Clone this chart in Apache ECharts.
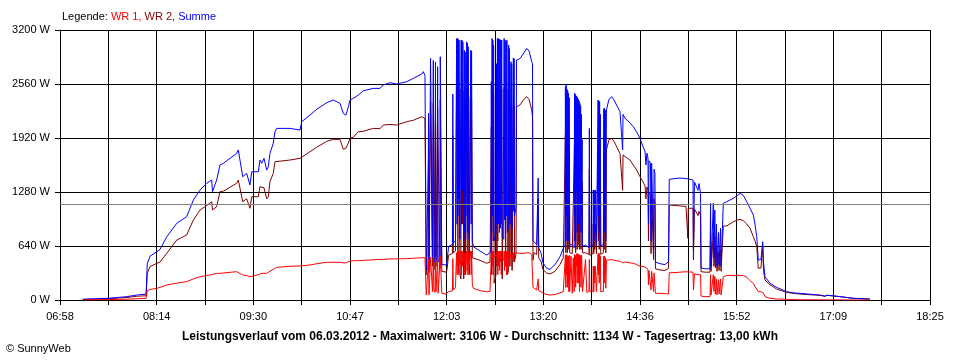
<!DOCTYPE html>
<html><head><meta charset="utf-8">
<script src="https://cdn.jsdelivr.net/npm/echarts@6/dist/echarts.min.js"></script>
<style>html,body{margin:0;padding:0;background:#fff}#c{width:960px;height:360px}</style>
</head><body><div id="c"></div>
<script>
// time axis: minutes of day; chart runs 06:58 .. 18:25
const START_MIN = 418;
const END_MIN = 1105;
const tickLabels = ['06:58','08:14','09:30','10:47','12:03','13:20','14:36','15:52','17:09','18:25'];
const average = 1134;
const titleText = 'Leistungsverlauf vom 06.03.2012 - Maximalwert: 3106 W - Durchschnitt: 1134 W - Tagesertrag: 13,00 kWh';

const times = [
436,456,471,479,486,486.9,489.1,494.4,497,502.3,
510.2,518,523.3,528.6,533.8,537.8,538.4,541.7,544.3,547,
557.5,558.8,562.3,565.4,568,569.4,574.6,575.9,577.3,579.1,
581.2,582.5,583.8,585.2,586.4,587.8,589.1,599.6,607.5,608.9,
615.4,620.7,628.6,633.8,639.1,641.7,643.8,645.7,647,649.6,
653.6,657.5,665.4,670.7,673.3,678.6,683.9,691.8,697,703.6,
704.9,706.2,
707.2,708.6,709.0,709.4,710.3,710.6,711.7,712.1,712.8,713.2,714.1,714.5,714.9,715.9,716.2,716.6,718.1,718.3,719.1,719.5,722.8,723.6,724.8,726.0,727.9,728.2,728.6,
730.3,731.1,731.3,731.6,731.9,732.2,732.5,732.8,733.1,733.5,733.8,734.6,734.8,735.1,735.4,735.8,736.1,736.5,736.8,737.3,737.6,738.0,738.3,739.0,739.2,739.5,739.8,740.1,740.4,740.8,741.1,742.2,742.4,742.7,743.0,743.3,743.6,744.4,749.7,754.9,757.6,
758.3,758.6,758.9,759.2,759.5,759.8,760.1,760.4,760.8,762.3,762.7,763.1,763.4,763.7,764.0,764.4,764.7,765.0,765.3,765.7,766.0,766.4,766.8,767.2,768.4,768.7,769.0,769.4,769.8,770.2,770.6,770.9,771.2,772.0,772.3,772.6,772.9,773.2,773.9,774.1,774.4,774.7,775.0,775.7,776.0,776.3,776.6,776.9,778.1,778.5,
781.2,784.4,786.5,788.4,790.5,791.1,791.5,792.3,794.4,795.3,795.6,796.0,797.8,799.4,802.3,804.9,808.9,812.8,815.4,
816.8,817.1,817.4,817.7,818.0,818.3,818.6,818.9,819.2,819.5,819.8,820.1,820.5,821.5,822.5,823.3,824.0,824.3,824.6,824.9,825.2,825.5,825.8,826.1,826.4,826.7,827.0,827.3,827.6,827.9,828.2,828.5,828.8,829.1,829.4,829.7,830.0,830.3,830.6,833,834,835.7,836.0,836.4,
838.9,839.1,839.5,839.9,840.3,840.7,841.3,841.6,842.6,842.9,843.2,843.5,843.8,844.1,844.4,844.7,845.0,847.1,847.4,847.7,848.0,848.3,848.6,849.0,849.5,
851.5,853.7,855.5,860.2,862.3,862.6,864.2,868.1,870.7,873.4,876.0,878.4,880.0,880.7,881.5,882.3,882.7,883.1,884.3,884.7,885.2,886.3,886.7,887.1,887.8,888.2,891.8,895.7,898.5,
899.1,903.6,907.6,912.3,913.7,913.8,914.1,917.9,918.2,919.0,920.2,921.8,922.6,923.8,924.2,927.3,931.3,931.7,932.1,933.6,
933.9,934.4,935.1,935.5,936.4,936.8,938.0,938.4,939.6,940.0,941.5,941.8,944.5,949.7,953.4,955.0,957.6,960.3,962.9,965.5,
966.8,968.2,969.4,971.5,972.9,973.5,974.7,978.7,983.9,991.8,996.8,1002.3,1018.1,1022.1,1023.7,1033.9,1044.4,1057.6
];

const wr1 = [
0,5,10,15,20,110,125,138,150,178,
200,217,250,276,290,300,300,316,316,320,
336,336,296,290,276,270,300,316,316,316,
316,320,340,350,363,380,387,400,403,405,
415,430,447,447,447,440,440,455,460,466,
466,470,476,482,482,486,488,490,495,501,
501,501,
60,40,480,60,80,510,500,100,500,120,90,510,100,90,500,80,100,520,510,80,70,90,100,110,110,490,120,
150,560,580,300,580,400,580,300,580,580,420,450,580,300,580,400,580,570,450,550,300,550,420,400,580,350,580,300,570,570,420,400,580,300,580,560,180,138,110,98,100,
110,540,500,580,400,580,300,580,500,500,550,500,580,300,580,400,580,350,580,450,580,300,580,500,470,580,350,580,400,580,300,580,500,520,580,400,570,500,500,550,400,550,500,500,560,450,560,550,550,553,
553,553,560,560,540,530,150,140,118,110,250,110,100,80,65,59,65,85,98,
98,530,150,540,300,530,150,520,200,520,100,530,100,520,80,500,100,540,300,530,150,530,400,550,200,550,300,540,200,540,100,530,300,530,150,530,500,500,100,480,90,100,480,100,
100,400,100,400,200,400,400,100,110,550,300,550,200,550,400,520,100,100,520,200,520,300,500,140,474,
474,480,470,460,440,455,450,440,435,420,400,400,390,380,380,360,180,350,340,120,340,330,100,320,300,80,79,75,71,
323,325,330,335,336,336,336,330,118,310,308,300,308,300,47,40,40,300,60,70,
300,100,280,70,250,60,240,70,250,60,70,276,290,292,292,292,290,270,230,198,
160,138,99,99,99,80,40,20,12,8,5,3,2,1,1,1,0,0
];

const wr2 = [
5,15,30,45,50,316,395,435,450,553,
711,770,948,1067,1120,1165,1067,1106,1284,1290,
1383,1422,1165,1200,1087,1224,1224,1343,1323,1330,
1200,1224,1402,1402,1500,1639,1659,1659,1679,1700,
1757,1810,1880,1904,1904,1786,1800,1860,1916,1930,
1994,2000,2034,2030,2074,2080,2074,2113,2130,2172,
2192,2150,
300,320,1700,330,340,2350,2340,400,2330,2000,360,2300,400,380,2270,1800,380,2370,2360,340,330,360,530,540,550,1950,560,
580,2350,2520,2000,2520,500,2500,2100,2500,2480,300,250,2500,2200,2500,900,2480,2460,250,2400,500,2380,300,300,2480,1900,2460,500,2430,2400,300,300,2380,2000,2370,2350,500,513,470,435,450,
470,2050,300,2520,2000,2500,700,2440,200,300,2250,400,2520,700,2520,2100,2500,800,2500,2200,2500,900,2500,250,250,2520,2000,2500,500,2480,1900,2500,300,330,2440,2000,2400,400,400,2270,500,2250,350,350,2310,1900,2300,450,550,2290,
2311,2380,2409,2380,2250,2172,470,560,540,530,1200,500,460,360,320,308,340,420,500,
520,1960,560,1990,1600,1950,560,1920,1700,1900,600,1850,560,560,550,550,540,1890,700,1880,560,1870,1500,1860,600,1850,1400,1820,650,1820,600,1800,1500,1770,600,1650,1000,1400,560,560,550,540,1550,530,
550,900,550,900,600,900,900,550,550,1820,700,1810,600,1800,1000,1700,540,560,1750,600,1750,800,1750,560,1780,
1900,1916,1880,1738,1300,1720,1700,1659,1600,1540,1461,1400,1350,1200,1340,1300,700,1280,1250,550,1250,1230,480,1200,1150,370,356,350,375,
1126,1120,1115,1110,1106,731,1087,1087,474,1080,1060,1000,1050,1007,336,330,330,800,340,350,
800,400,750,380,650,340,560,350,600,340,350,877,877,928,950,956,940,900,850,750,
700,632,375,380,632,350,237,180,130,90,80,70,55,45,55,40,20,10
];

const summe = [
10,20,40,60,70,430,520,572,600,750,
909,987,1185,1304,1383,1422,1284,1422,1600,1620,
1738,1778,1461,1501,1363,1520,1520,1659,1620,1679,
1540,1580,1738,1757,1857,1994,2034,2034,2014,2113,
2192,2260,2338,2370,2331,2212,2192,2290,2370,2390,
2429,2480,2508,2508,2548,2575,2560,2587,2627,2678,
2706,2660,
356,380,2212,400,420,2864,2850,500,2840,480,450,2820,500,470,2765,450,480,2883,2870,420,415,450,632,650,660,2440,680,
700,2900,3100,900,3100,1000,3090,1200,3080,3060,720,700,3080,900,3080,1300,3060,3040,700,2960,800,2940,720,700,3060,1000,3040,800,3000,2980,720,700,2960,900,2950,2930,700,632,580,533,560,
593,2587,800,3100,1000,3080,1100,3020,700,800,2800,900,3100,1000,3100,900,3090,1150,3090,850,3080,1200,3080,750,720,3100,950,3080,900,3060,1000,3080,800,850,3020,1000,2980,900,900,2824,900,2800,850,850,2870,1050,2860,1000,1100,2844,
2860,2930,2982,2950,2824,2800,700,680,660,650,1446,620,560,440,375,363,420,513,612,
650,2528,700,2560,1000,2500,700,2480,1100,2450,700,2400,660,660,650,640,620,2450,1000,2440,700,2420,1300,2410,800,2400,1000,2380,900,2360,700,2330,1100,2300,800,2200,1500,1900,640,650,640,620,2034,630,
650,1304,700,1304,800,1304,1304,650,660,2370,1000,2360,800,2350,1400,2200,640,660,2270,800,2270,1100,2250,700,2252,
2380,2409,2370,2232,1778,2200,2153,2100,2054,1990,1916,1817,1757,1600,1740,1680,900,1650,1620,700,1620,1600,600,1550,1500,450,430,420,454,
1430,1440,1445,1440,1422,1422,1422,1422,593,1400,1380,1300,1380,1264,380,370,370,1146,400,420,
1146,500,1067,450,900,400,800,420,850,400,420,1146,1165,1205,1244,1264,1240,1165,1087,1007,
900,750,474,480,691,450,276,198,150,99,85,79,59,45,58,40,20,12
];

const FONT = '"Liberation Sans", Arial, sans-serif';
const SPAN_SEC = (END_MIN - START_MIN) * 60;   // 41220
const STEP_SEC = SPAN_SEC / 18;                // 2290 (grid every 38 min 10 s)
const toX = t => (t - START_MIN) * 60;

function mk(vals) { return times.map((t, i) => [toX(t), vals[i]]); }
const lenOk = times.length === wr1.length && times.length === wr2.length && times.length === summe.length;

const chart = echarts.init(document.getElementById('c'), null, {renderer: 'canvas'});
chart.setOption({
  animation: false,
  backgroundColor: '#ffffff',
  textStyle: {fontFamily: FONT},
  grid: {left: 60, right: 30, top: 30, bottom: 60, containLabel: false},
  xAxis: {
    type: 'value', min: 0, max: SPAN_SEC, interval: STEP_SEC,
    axisLine: {show: true, onZero: false, lineStyle: {color: '#000', width: 1}},
    axisTick: {show: true, inside: false, length: 5, lineStyle: {color: '#000', width: 1}},
    axisLabel: {
      show: true, margin: 11, color: '#000', fontSize: 11, fontFamily: FONT,
      showMinLabel: true, showMaxLabel: true, hideOverlap: false,
      formatter: v => { const k = Math.round(v / STEP_SEC); return k % 2 === 0 ? tickLabels[k / 2] : ''; }
    },
    splitLine: {show: true, lineStyle: {color: '#000', width: 1}}
  },
  yAxis: {
    type: 'value', min: 0, max: 3200, interval: 640,
    axisLine: {show: true, lineStyle: {color: '#000', width: 1}},
    axisTick: {show: true, inside: false, length: 5, lineStyle: {color: '#000', width: 1}},
    axisLabel: {show: true, margin: 10, color: '#000', fontSize: 11, fontFamily: FONT,
      showMinLabel: true, showMaxLabel: true, formatter: v => v + ' W'},
    splitLine: {show: true, lineStyle: {color: '#000', width: 1}}
  },
  series: [
    {name: 'WR 2', type: 'line', data: mk(wr2), symbol: 'none', showSymbol: false,
      lineStyle: {color: '#800000', width: 1}, itemStyle: {color: '#800000'}, z: 2,
      markLine: {silent: true, symbol: 'none', animation: false, label: {show: false},
        lineStyle: {color: '#808080', width: 1, type: 'solid'}, data: [{yAxis: average}]}},
    {name: 'Summe', type: 'line', data: mk(summe), symbol: 'none', showSymbol: false,
      lineStyle: {color: '#0000ff', width: 1}, itemStyle: {color: '#0000ff'}, z: 3},
    {name: 'WR 1', type: 'line', data: mk(wr1), symbol: 'none', showSymbol: false,
      lineStyle: {color: '#ff0000', width: 1}, itemStyle: {color: '#ff0000'}, z: 4}
  ],
  graphic: [
    {type: 'text', left: 62, top: 11, style: {
      text: '{k|Legende: }{r|WR 1, }{d|WR 2, }{b|Summe}',
      rich: {
        k: {fill: '#000', fontSize: 11, fontFamily: FONT},
        r: {fill: '#ff0000', fontSize: 11, fontFamily: FONT},
        d: {fill: '#800000', fontSize: 11, fontFamily: FONT},
        b: {fill: '#0000ff', fontSize: 11, fontFamily: FONT}
      }}},
    {type: 'text', left: 'center', top: 331, style: {
      text: titleText, fill: '#000', font: 'bold 12px ' + FONT}},
    {type: 'text', left: 6, top: 343, style: {
      text: '\u00a9 SunnyWeb', fill: '#000', font: '11px ' + FONT}},
    {type: 'text', left: 400, top: 5, invisible: lenOk, style: {
      text: 'LENGTH MISMATCH ' + [times.length, wr1.length, wr2.length, summe.length].join('/'), fill: '#000', font: '11px ' + FONT}}
  ]
});
</script>
</body></html>
